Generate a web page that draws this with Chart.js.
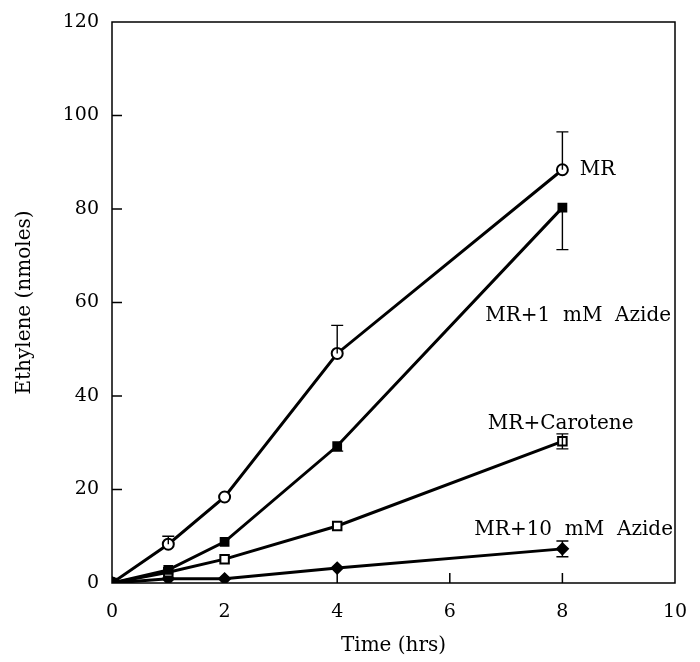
<!DOCTYPE html>
<html>
<head>
<meta charset="utf-8">
<script src="https://cdn.jsdelivr.net/npm/chart.js@4.4.0/dist/chart.umd.min.js"></script>
<style>
  html, body { margin: 0; padding: 0; background: #fff; }
  #wrap { width: 700px; height: 662px; }
</style>
</head>
<body>
<div id="wrap"><canvas id="ethyleneChart"></canvas></div>
<script>
// time points (hrs)
const times = [0, 1, 2, 4, 8];

// ethylene (nmoles) per treatment
const mr = [0, 8.3, 18.4, 49.1, 88.4];
const mrErrUp = [0, 1.7, 0, 6.0, 8.1];
const mrErrDown = [0, 0, 0, 0, 0];

const azide1 = [0, 2.8, 8.8, 29.3, 80.3];
const azide1ErrUp = [0, 0, 0, 0, 0];
const azide1ErrDown = [0, 0, 0, 1.1, 9.0];

const carotene = [0, 2.3, 5.1, 12.2, 30.3];
const caroteneErrUp = [0, 0, 0, 0, 1.6];
const caroteneErrDown = [0, 0, 0, 0, 1.6];

const azide10 = [0, 0.9, 0.9, 3.2, 7.3];
const azide10ErrUp = [0, 0, 0, 0, 1.7];
const azide10ErrDown = [0, 0, 0, 0, 1.7];

const seriesNames = ["MR", "MR+1  mM  Azide", "MR+Carotene", "MR+10  mM  Azide"];

const xTicks = [0, 2, 4, 6, 8, 10];
const yTicks = [0, 20, 40, 60, 80, 100, 120];

const FONT = "'DejaVu Serif', serif";

function pts(vals, up, down) {
  return times.map((t, i) => ({ x: t, y: vals[i], up: up[i], down: down[i] }));
}

// frame, inward ticks, error bars and series labels
const extras = {
  id: "extras",
  afterDatasetsDraw(c) {
    const ctx = c.ctx;
    const a = c.chartArea;
    const xs = c.scales.x, ys = c.scales.y;
    ctx.save();
    ctx.strokeStyle = "#000";
    ctx.lineWidth = 1.5;
    ctx.strokeRect(a.left, a.top, a.right - a.left, a.bottom - a.top);

    ctx.beginPath();
    xTicks.slice(1, -1).forEach(v => {
      const px = xs.getPixelForValue(v);
      ctx.moveTo(px, a.bottom);
      ctx.lineTo(px, a.bottom - 10);
    });
    yTicks.slice(1, -1).forEach(v => {
      const py = ys.getPixelForValue(v);
      ctx.moveTo(a.left, py);
      ctx.lineTo(a.left + 10, py);
    });
    ctx.stroke();

    // error bars
    ctx.lineWidth = 1.4;
    c.data.datasets.forEach(ds => {
      ds.data.forEach(p => {
        const px = xs.getPixelForValue(p.x);
        const top = ys.getPixelForValue(p.y + p.up);
        const bot = ys.getPixelForValue(p.y - p.down);
        const mid = ys.getPixelForValue(p.y);
        ctx.beginPath();
        if (p.up > 0) {
          ctx.moveTo(px, mid); ctx.lineTo(px, top);
          ctx.moveTo(px - 6, top); ctx.lineTo(px + 6, top);
        }
        if (p.down > 0) {
          ctx.moveTo(px, mid); ctx.lineTo(px, bot);
          ctx.moveTo(px - 6, bot); ctx.lineTo(px + 6, bot);
        }
        ctx.stroke();
      });
    });

    // series labels
    ctx.fillStyle = "#000";
    ctx.font = "20px " + FONT;
    ctx.textBaseline = "middle";
    const labels = [
      { text: seriesNames[0], x: 8.31, y: 88.4, align: "left" },
      { text: seriesNames[1], x: 8.28, y: 57.2, align: "center" },
      { text: seriesNames[2], x: 7.97, y: 34.0, align: "center" },
      { text: seriesNames[3], x: 8.2, y: 11.3, align: "center" }
    ];
    labels.forEach(l => {
      ctx.textAlign = l.align;
      ctx.fillText(l.text, xs.getPixelForValue(l.x), ys.getPixelForValue(l.y));
    });
    ctx.restore();
  }
};

const common = {
  borderColor: "#000",
  borderWidth: 3,
  pointBorderColor: "#000",
  pointBorderWidth: 2,
  showLine: true,
  tension: 0
};

new Chart(document.getElementById("ethyleneChart"), {
  type: "scatter",
  data: {
    datasets: [
      Object.assign({}, common, {
        label: seriesNames[0],
        data: pts(mr, mrErrUp, mrErrDown),
        pointStyle: "circle", pointRadius: 5.5,
        pointBackgroundColor: ["#000", "#fff", "#fff", "#fff", "#fff"]
      }),
      Object.assign({}, common, {
        label: seriesNames[1],
        data: pts(azide1, azide1ErrUp, azide1ErrDown),
        pointStyle: "rect", pointRadius: 5.5, pointBackgroundColor: "#000"
      }),
      Object.assign({}, common, {
        label: seriesNames[2],
        data: pts(carotene, caroteneErrUp, caroteneErrDown),
        pointStyle: "rect", pointRadius: 6, pointBackgroundColor: "#fff"
      }),
      Object.assign({}, common, {
        label: seriesNames[3],
        data: pts(azide10, azide10ErrUp, azide10ErrDown),
        pointStyle: "rectRot", pointRadius: 5.5, pointBackgroundColor: "#000"
      })
    ]
  },
  options: {
    responsive: true,
    maintainAspectRatio: false,
    animation: false,
    layout: { padding: { top: 22, right: 25, left: 0, bottom: 0 } },
    plugins: {
      legend: { display: false },
      tooltip: { enabled: false }
    },
    scales: {
      x: {
        type: "linear",
        min: 0, max: 10,
        afterFit: s => { s.height = 79; s.paddingLeft = 0; s.paddingRight = 0; },
        afterBuildTicks: s => { s.ticks = xTicks.map(v => ({ value: v })); },
        grid: { display: false, drawTicks: false },
        border: { display: false },
        ticks: { color: "#000", font: { family: FONT, size: 19 }, padding: 18, maxRotation: 0 },
        title: { display: true, text: "Time (hrs)", color: "#000", font: { family: FONT, size: 20 }, padding: { top: 0, bottom: 4 } }
      },
      y: {
        min: 0, max: 120,
        afterFit: s => { s.width = 112; s.paddingTop = 0; s.paddingBottom = 0; },
        afterBuildTicks: s => { s.ticks = yTicks.map(v => ({ value: v })); },
        grid: { display: false, drawTicks: false },
        border: { display: false },
        ticks: { color: "#000", font: { family: FONT, size: 19 }, padding: 13 },
        title: { display: true, text: "Ethylene (nmoles)", color: "#000", font: { family: FONT, size: 20 }, padding: { top: 13, bottom: 0 } }
      }
    }
  },
  plugins: [extras]
});
</script>
</body>
</html>
